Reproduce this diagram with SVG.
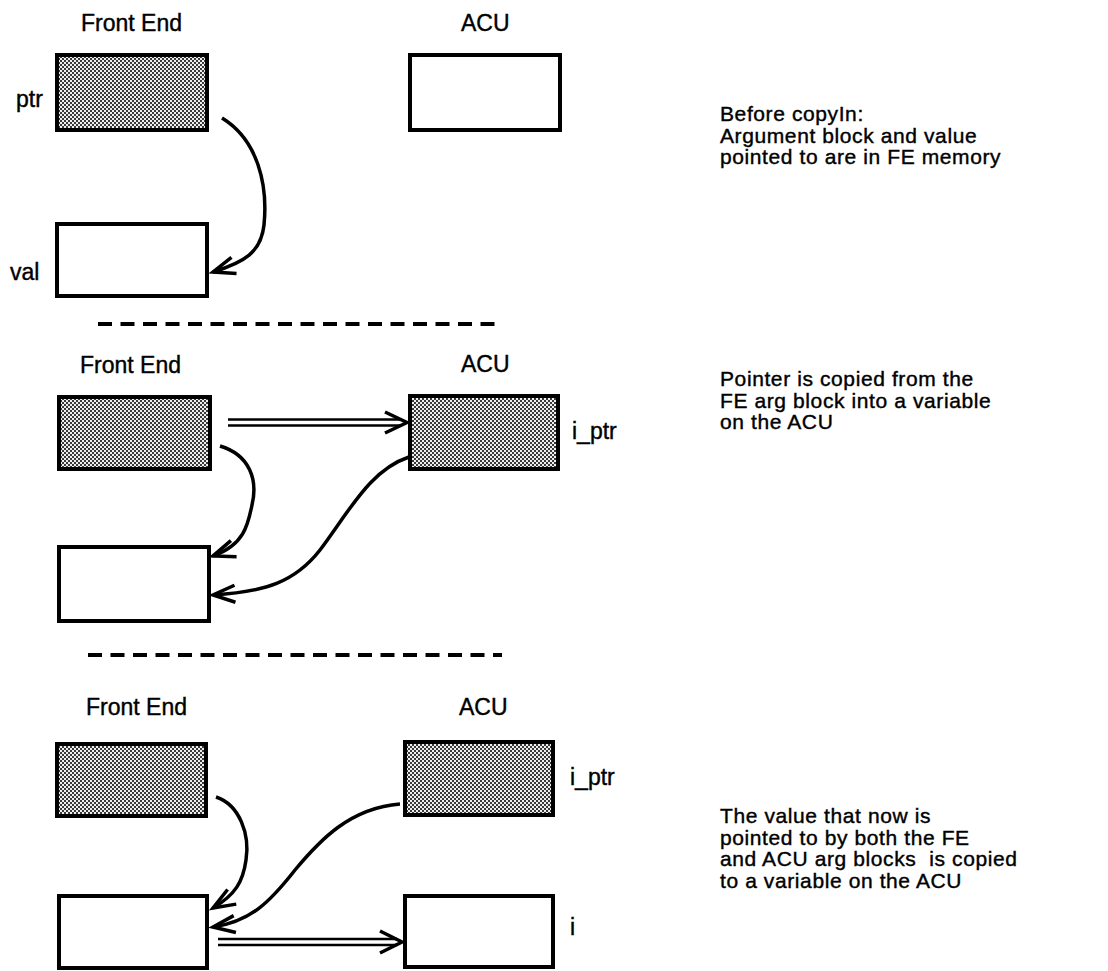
<svg xmlns="http://www.w3.org/2000/svg" width="1108" height="971" viewBox="0 0 1108 971">
<defs>
<pattern id="dots" patternUnits="userSpaceOnUse" width="4" height="4">
<rect width="4" height="4" fill="#eeeeee"/>
<rect x="0" y="0" width="2" height="2" fill="#3a3a3a"/>
<rect x="2" y="2" width="2" height="2" fill="#3a3a3a"/>
</pattern>
<marker id="vhead" markerUnits="userSpaceOnUse" viewBox="-24 -12 28 24" refX="0" refY="0" markerWidth="28" markerHeight="24" orient="auto" overflow="visible">
<path d="M -22 -8.5 L 0 0 L -22 8.5" fill="none" stroke="#000" stroke-width="3.5" stroke-linejoin="miter" stroke-linecap="butt"/>
</marker>
<style>
text{font-family:"Liberation Sans",Arial,Helvetica,sans-serif;fill:#000;stroke:#000;stroke-width:0.4}
.hd{font-size:23px}
.lb{font-size:23px}
.note{font-size:21px;letter-spacing:0.6px}
.box{stroke:#000;stroke-width:4;fill:#fff}
.shaded{fill:url(#dots)}
.curve{fill:none;stroke:#000;stroke-width:3.5;marker-end:url(#vhead)}
.dbl{fill:none;stroke:#000;stroke-width:2.5}
.head{fill:none;stroke:#000;stroke-width:3.5}
.dash{stroke:#000;stroke-width:4;stroke-dasharray:14 8.5}
</style>
</defs>

<!-- Section 1 -->
<g id="s1-headings">
<text class="hd" x="81" y="31">Front End</text>
<text class="hd" x="461" y="31">ACU</text>
</g>
<g id="s1-ptr">
<rect class="box shaded" x="57" y="55" width="150" height="75"/>
<text class="lb" x="16" y="107">ptr</text>
</g>
<g id="s1-acu">
<rect class="box" x="410" y="55" width="150" height="75"/>
</g>
<g id="s1-val">
<rect class="box" x="57" y="224" width="150" height="72"/>
<text class="lb" x="10" y="280">val</text>
</g>
<g id="s1-note">
<text class="note" x="720" y="121">Before copyIn:</text>
<text class="note" x="720" y="142.5">Argument block and value</text>
<text class="note" x="720" y="164">pointed to are in FE memory</text>
</g>

<line class="dash" x1="98" y1="324" x2="502" y2="324"/>

<!-- Section 2 -->
<g id="s2-headings">
<text class="hd" x="80" y="373">Front End</text>
<text class="hd" x="461" y="372">ACU</text>
</g>
<g id="s2-fe-ptr">
<rect class="box shaded" x="59" y="397" width="151" height="72"/>
</g>
<g id="s2-acu-ptr">
<rect class="box shaded" x="410" y="396" width="148" height="73"/>
<text class="lb" x="572" y="439">i_ptr</text>
</g>
<g id="s2-fe-val">
<rect class="box" x="59" y="547" width="150" height="74"/>
</g>
<g id="s2-note">
<text class="note" x="720" y="386">Pointer is copied from the</text>
<text class="note" x="720" y="407.5">FE arg block into a variable</text>
<text class="note" x="720" y="429">on the ACU</text>
</g>

<line class="dash" x1="88" y1="655" x2="502" y2="655"/>

<!-- Section 3 -->
<g id="s3-headings">
<text class="hd" x="86" y="715">Front End</text>
<text class="hd" x="459" y="715">ACU</text>
</g>
<g id="s3-fe-ptr">
<rect class="box shaded" x="57" y="744" width="149" height="72"/>
</g>
<g id="s3-acu-ptr">
<rect class="box shaded" x="405" y="742" width="148" height="73"/>
<text class="lb" x="570" y="785">i_ptr</text>
</g>
<g id="s3-fe-val">
<rect class="box" x="59" y="896" width="148" height="72"/>
</g>
<g id="s3-acu-i">
<rect class="box" x="405" y="896" width="148" height="71"/>
<text class="lb" x="570" y="935">i</text>
</g>
<g id="s3-note">
<text class="note" x="720" y="823">The value that now is</text>
<text class="note" x="720" y="844.5">pointed to by both the FE</text>
<text class="note" x="720" y="866" xml:space="preserve">and ACU arg blocks  is copied</text>
<text class="note" x="720" y="887.5">to a variable on the ACU</text>
</g>

<!-- Connectors -->
<g id="connectors">
<path class="curve" d="M 222 118 C 258 140, 268 185, 264 225 C 261 252, 245 262, 213 272"/>

<path class="curve" d="M 220 446 C 250 455, 258 480, 252 505 C 248 525, 244 545, 213 556"/>
<path class="curve" d="M 409 457 C 370 470, 350 510, 320 550 C 295 582, 265 592, 213 595"/>
<line class="dbl" x1="228" y1="419.5" x2="402" y2="419.5"/>
<line class="dbl" x1="228" y1="425.5" x2="402" y2="425.5"/>
<path class="head" d="M 385 412 L 407 422.5 L 385 433"/>

<path class="curve" d="M 216 797 C 240 805, 250 835, 246 860 C 243 882, 235 895, 213 908"/>
<path class="curve" d="M 400 804 C 350 808, 320 840, 295 870 C 270 902, 250 922, 213 927"/>
<line class="dbl" x1="218" y1="939" x2="397" y2="939"/>
<line class="dbl" x1="218" y1="945" x2="397" y2="945"/>
<path class="head" d="M 380 931 L 402 942 L 380 953"/>
</g>
</svg>
